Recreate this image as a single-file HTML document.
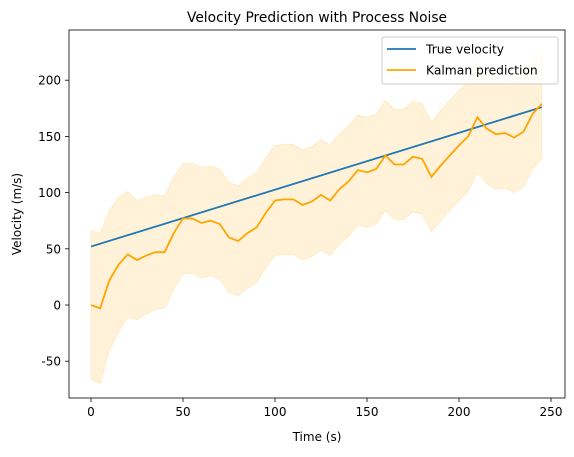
<!DOCTYPE html>
<html><head><meta charset="utf-8"><style>
body{margin:0;background:#fff;font-family:"DejaVu Sans","Liberation Sans",sans-serif}
svg text{font-family:"DejaVu Sans","Liberation Sans",sans-serif}
</style></head><body>
<svg id="chart" width="574" height="453" xmlns="http://www.w3.org/2000/svg">
<rect width="574" height="453" fill="#fff"/>
<g id="band"></g>
<g id="lines"></g>
<rect x="69" y="30" width="496" height="368" fill="none" stroke="#000" stroke-width="0.8"/>
<g id="xt"></g>
<g id="yt"></g>
<text x="317" y="22" font-size="13.8" text-anchor="middle">Velocity Prediction with Process Noise</text>
<text x="317" y="441" font-size="12" text-anchor="middle">Time (s)</text>
<text x="21" y="214" font-size="12" text-anchor="middle" transform="rotate(-90 21 214)">Velocity (m/s)</text>
<g>
<rect x="382" y="37" width="176" height="47" rx="2" fill="#fff" fill-opacity="0.8" stroke="#ccc"/>
<line x1="387" y1="49" x2="416" y2="49" stroke="#1f77b4" stroke-width="1.8"/>
<text x="426" y="53.5" font-size="12.3">True velocity</text>
<line x1="387" y1="70" x2="416" y2="70" stroke="#ffa500" stroke-width="1.8"/>
<text x="426" y="74.5" font-size="12.3">Kalman prediction</text>
</g>
</svg>
<script>
const times=[0,5,10,15,20,25,30,35,40,45,50,55,60,65,70,75,80,85,90,95,100,105,110,115,120,125,130,135,140,145,150,155,160,165,170,175,180,185,190,195,200,205,210,215,220,225,230,235,240,245];
const kalman=[0,-3,22,36,45,40,44,47,47,64,77,77,73,75,72,60,57,64,69,82,93,94,94,89,92,98,93,103,110,120,118,121,133,125,125,132,130,114,124,133,142,150,167,157,152,153,149,154,170,179];
const bandWidth=[66,67,62,60,56,53,52,51,50,50,49,49,49,49,49,49,49,49,49,49,49,49,49,49,49,49,49,49,49,49,49,49,49,49,49,49,49,49,49,49,49,49,49,49,49,49,49,49,49,49];
const trueStart=52, trueEnd=176;
const xTicks=[0,50,100,150,200,250];
const yTicks=[-50,0,50,100,150,200];
const X=t=>91+t*1.84, Y=v=>305-v*1.124;
const NS="http://www.w3.org/2000/svg";
function mk(tag,attrs,parent){const e=document.createElementNS(NS,tag);for(const k in attrs)e.setAttribute(k,attrs[k]);parent.appendChild(e);return e;}
const band=document.getElementById('band'),lines=document.getElementById('lines');
let up=times.map((t,i)=>X(t)+','+Y(kalman[i]+bandWidth[i]));
let lo=times.map((t,i)=>X(t)+','+Y(kalman[i]-bandWidth[i])).reverse();
const poly=mk('polygon',{points:up.concat(lo).join(' '),fill:'#ffa500','fill-opacity':0.15,stroke:'#ffa500','stroke-opacity':0.15},band);


const tl=mk('line',{x1:X(times[0]),y1:Y(trueStart),x2:X(times[times.length-1]),y2:Y(trueEnd),stroke:'#1f77b4','stroke-width':1.8},lines);


const kl=mk('polyline',{points:times.map((t,i)=>X(t)+','+Y(kalman[i])).join(' '),fill:'none',stroke:'#ffa500','stroke-width':1.8},lines);


const xt=document.getElementById('xt'),yt=document.getElementById('yt');
xTicks.forEach(v=>{const g=mk('g',{},xt);


mk('line',{x1:X(v),x2:X(v),y1:398,y2:402,stroke:'#000','stroke-width':0.8},g);
const t=mk('text',{x:X(v),y:416,'font-size':12,'text-anchor':'middle'},g);t.textContent=v;});
yTicks.forEach(v=>{const g=mk('g',{},yt);


mk('line',{x1:65,x2:69,y1:Y(v),y2:Y(v),stroke:'#000','stroke-width':0.8},g);
const t=mk('text',{x:61,y:Y(v)+4.5,'font-size':12,'text-anchor':'end'},g);t.textContent=v;});
</script>
</body></html>
